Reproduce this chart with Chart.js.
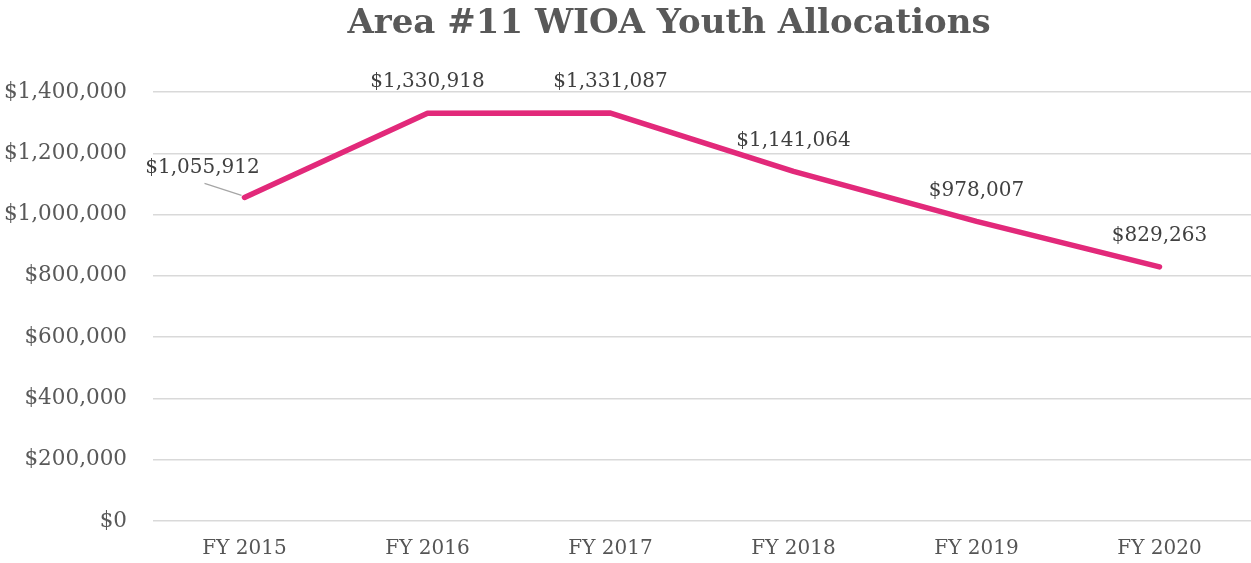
<!DOCTYPE html>
<html>
<head>
<meta charset="utf-8">
<script src="https://cdn.jsdelivr.net/npm/chart.js@4"></script>
<style>
  html, body { margin: 0; padding: 0; background: #ffffff; }
  #wrap { width: 1251px; height: 563px; }
</style>
</head>
<body>
<div id="wrap"><canvas id="grafico"></canvas></div>
<script>
const titulo = 'Area #11 WIOA Youth Allocations';
const categorias = ['FY 2015', 'FY 2016', 'FY 2017', 'FY 2018', 'FY 2019', 'FY 2020'];
const montos = [1055912, 1330918, 1331087, 1141064, 978007, 829263];
const ticksY = [0, 200000, 400000, 600000, 800000, 1000000, 1200000, 1400000];

const formato = v => '$' + new Intl.NumberFormat('en-US').format(v);

// etiquetas de datos + titulo
const etiquetas = {
    id: 'etiquetas',
    afterDraw(chart) {
        const ctx = chart.ctx;
        const meta = chart.getDatasetMeta(0);
        ctx.save();
        ctx.font = '20px "DejaVu Serif"';
        ctx.fillStyle = '#404040';
        ctx.textAlign = 'center';
        ctx.textBaseline = 'middle';
        meta.data.forEach(function(p, i){
            let x = p.x, y = p.y - 31;
            if (i === 0) {
                x = p.x - 42; y = p.y - 30;
                ctx.strokeStyle = '#a6a6a6';
                ctx.lineWidth = 1.2;
                ctx.beginPath();
                ctx.moveTo(p.x - 40, p.y - 14);
                ctx.lineTo(p.x - 3, p.y - 2);
                ctx.stroke();
            }
            ctx.fillText(formato(montos[i]), x, y);
        });
        ctx.font = 'bold 34px "DejaVu Serif"';
        ctx.fillStyle = '#595959';
        ctx.fillText(titulo, 669, 24);
        ctx.restore();
    }
};

new Chart(document.getElementById('grafico'), {
    type: 'line',
    plugins: [etiquetas],
    data: {
        labels: categorias,
        datasets: [{
            data: montos,
            borderColor: '#e2297a',
            borderWidth: 5.5,
            borderCapStyle: 'round',
            borderJoinStyle: 'round',
            pointRadius: 0,
            tension: 0,
            fill: false
        }]
    },
    options: {
        responsive: true,
        maintainAspectRatio: false,
        animation: false,
        layout: { padding: { top: 92, right: 0, left: 0, bottom: 0 } },
        plugins: {
            legend: { display: false },
            title: { display: false },
            tooltip: { enabled: false }
        },
        scales: {
            x: {
                offset: true,
                afterFit: axis => { axis.height = 42; },
                grid: { display: false, drawTicks: false },
                border: { display: false },
                ticks: {
                    color: '#555555',
                    font: { family: 'DejaVu Serif', size: 20 },
                    padding: 16
                }
            },
            y: {
                min: 0,
                max: 1400000,
                afterBuildTicks: axis => { axis.ticks = ticksY.map(v => ({ value: v })); },
                afterFit: axis => { axis.width = 153; },
                grid: { color: '#d9d9d9', lineWidth: 1.5, drawTicks: false },
                border: { display: false },
                ticks: {
                    color: '#595959',
                    font: { family: 'DejaVu Serif', size: 21.5 },
                    padding: 26,
                    callback: v => formato(v)
                }
            }
        }
    }
});
</script>
</body>
</html>
